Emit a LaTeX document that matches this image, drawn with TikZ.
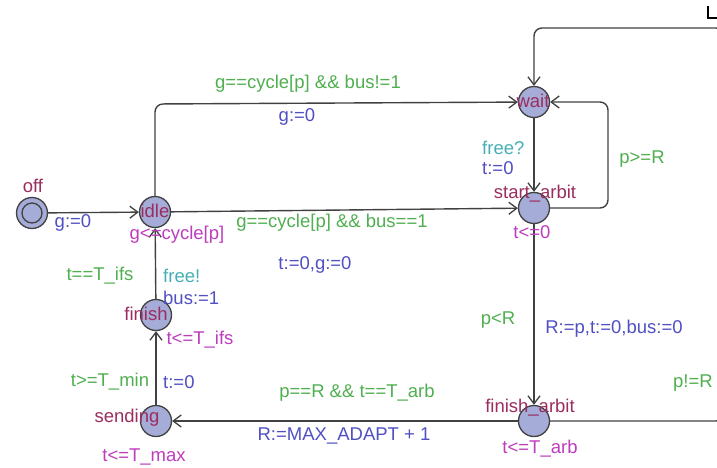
\documentclass[tikz,border=0pt]{standalone}
\usepackage{fontspec}
\setmainfont{Liberation Sans}
\usetikzlibrary{arrows.meta}
\definecolor{locname}{RGB}{155,45,95}
\definecolor{guardc}{RGB}{80,175,80}
\definecolor{syncc}{RGB}{70,175,180}
\definecolor{updc}{RGB}{80,80,195}
\definecolor{invc}{RGB}{190,60,190}
\definecolor{locfill}{RGB}{165,172,215}
\definecolor{linec}{RGB}{65,65,65}
\begin{document}
\begin{tikzpicture}[x=1pt,y=-1pt,
  font=\fontsize{18.5}{21}\selectfont,
  loc/.style={circle,draw=linec,fill=locfill,line width=1.3pt,minimum size=31pt,inner sep=0pt},
  edge/.style={draw=linec,line width=1.4pt,rounded corners=8pt,
    -{Straight Barb[length=8pt,width=12pt,line width=1.3pt]}},
  nm/.style={text=locname,inner sep=0pt},
  grd/.style={text=guardc,inner sep=0pt},
  syn/.style={text=syncc,inner sep=0pt},
  upd/.style={text=updc,inner sep=0pt},
  inv/.style={text=invc,inner sep=0pt}]
\useasboundingbox (0,0) rectangle (717,468);
\clip (0,0) rectangle (717,468);
\fill[white] (0,0) rectangle (717,468);

% locations
\node[loc] (off) at (32,213) {};
\draw[linec,line width=1.3pt] (off.center) circle (10pt);
\node[loc] (idle) at (155,212) {};
\node[loc] (wait) at (534,102) {};
\node[loc] (start) at (534,208) {};
\node[loc] (finarb) at (534,421) {};
\node[loc] (finish) at (156,315) {};
\node[loc] (sending) at (156,421) {};

% bend coordinates
\coordinate (c1) at (155,104);
\coordinate (c2) at (608,208);
\coordinate (c3) at (608,102);
\coordinate (c4) at (724,421);
\coordinate (c5) at (724,28);
\coordinate (c6) at (534,28);

% edges
\draw[edge] (off) -- (idle);
\draw[edge] (idle) -- (c1) -- (wait);
\draw[edge] (idle) -- (start);
\draw[edge] (wait) -- (start);
\draw[edge] (start) -- (c2) -- (c3) -- (wait);
\draw[edge] (start) -- (finarb);
\draw[edge] (finarb) -- (sending);
\draw[edge] (finarb) -- (c4) -- (c5) -- (c6) -- (wait);
\draw[edge] (sending) -- (finish);
\draw[edge] (finish) -- (idle);

% partial mark top right
\coordinate (m1) at (708,6);
\coordinate (m2) at (708,18);
\coordinate (m3) at (720,18);
\draw[black,line width=1.5pt] (m1) -- (m2) -- (m3);

% location names
\node[nm] (noff) at (33,186) {off};
\node[nm] (nidle) at (155,211) {idle};
\node[nm] (nwait) at (533,101) {wait};
\node[nm] (nstart) at (535,194) {start\_arbit};
\node[nm] (nfinarb) at (530,408) {finish\_arbit};
\node[nm] (nfinish) at (146,314) {finish};
\node[nm] (nsending) at (127,418) {sending};

% invariants
\node[inv] (iidle) at (177,235) {g<=cycle[p]};
\node[inv] (istart) at (532,232) {t<=0};
\node[inv] (ifinish) at (200,340) {t<=T\_ifs};
\node[inv] (isending) at (144,457) {t<=T\_max};
\node[inv] (ifinarb) at (540,449) {t<=T\_arb};

% edge labels
\node[upd] (u1) at (73,223) {g:=0};
\node[grd] (g2) at (308,84) {g==cycle[p] \&\& bus!=1};
\node[upd] (u2) at (297,117) {g:=0};
\node[grd] (g3) at (332,223) {g==cycle[p] \&\& bus==1};
\node[upd] (u3) at (315,265) {t:=0,g:=0};
\node[syn,anchor=west] (s4) at (482,148) {free?};
\node[upd,anchor=west] (u4) at (482,168) {t:=0};
\node[grd] (g5) at (642,159) {p>=R};
\node[grd] (g6) at (498,320) {p<R};
\node[upd] (u6) at (614,329) {R:=p,t:=0,bus:=0};
\node[grd] (g7) at (357,393) {p==R \&\& t==T\_arb};
\node[upd] (u7) at (344,436) {R:=MAX\_ADAPT + 1};
\node[grd] (g8) at (693,383) {p!=R};
\node[grd] (g9) at (110,382) {t>=T\_min};
\node[upd,anchor=west] (u9) at (163,382) {t:=0};
\node[grd] (g10) at (100,276) {t==T\_ifs};
\node[syn,anchor=west] (s10) at (163,276) {free!};
\node[upd,anchor=west] (u10) at (163,298) {bus:=1};
\end{tikzpicture}
\end{document}
